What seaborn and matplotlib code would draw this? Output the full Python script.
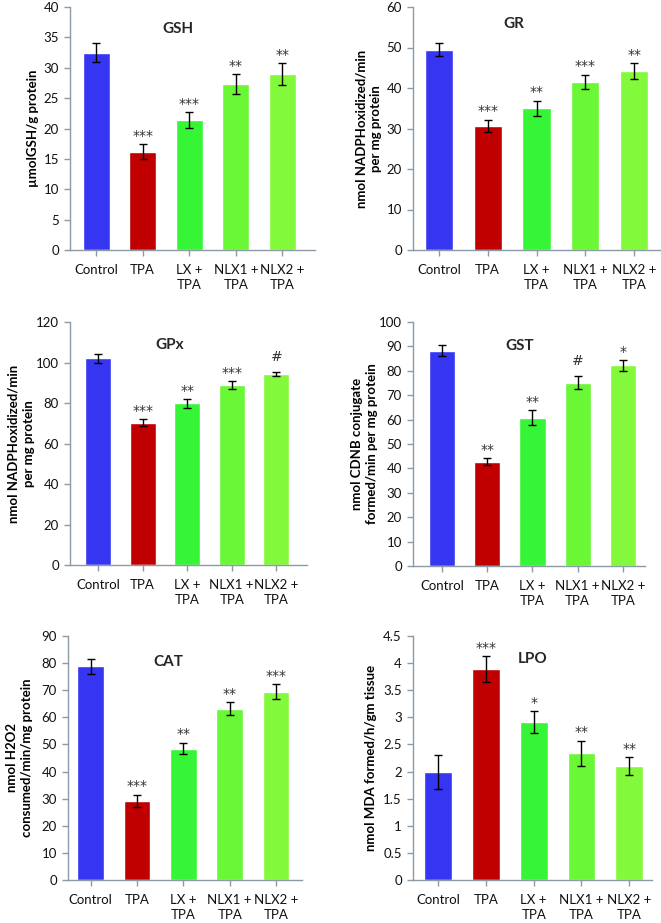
import matplotlib
matplotlib.use("Agg")
import matplotlib.pyplot as plt
import seaborn as sns
import numpy as np
import pandas as pd

sns.set_theme(style="white")
plt.rcParams['font.family'] = ['Lato', 'DejaVu Sans']

# ---- data ----
categories = ["Control", "TPA", "LX +\nTPA", "NLX1 +\nTPA", "NLX2 +\nTPA"]
colors = ["#3535f2", "#c00000", "#36f536", "#69f736", "#82f93a"]

gsh_vals = [32.5, 16.2, 21.4, 27.3, 28.9]
gsh_errs = [1.5, 1.2, 1.3, 1.6, 1.8]
gsh_sig = ["", "***", "***", "**", "**"]

gr_vals = [49.5, 30.7, 35.0, 41.5, 44.2]
gr_errs = [1.7, 1.5, 1.9, 1.8, 2.0]
gr_sig = ["", "***", "**", "***", "**"]

gpx_vals = [102.0, 70.3, 79.8, 88.7, 94.5]
gpx_errs = [2.0, 1.8, 2.2, 2.0, 1.0]
gpx_sig = ["", "***", "**", "***", "#"]

gst_vals = [88.2, 42.7, 60.8, 75.2, 82.3]
gst_errs = [2.2, 1.5, 3.0, 2.8, 2.2]
gst_sig = ["", "**", "**", "#", "*"]

cat_vals = [78.8, 29.2, 48.5, 63.2, 69.5]
cat_errs = [2.7, 2.3, 2.2, 2.5, 2.8]
cat_sig = ["", "***", "**", "**", "***"]

lpo_vals = [1.99, 3.89, 2.91, 2.34, 2.10]
lpo_errs = [0.31, 0.24, 0.20, 0.23, 0.16]
lpo_sig = ["", "***", "*", "**", "**"]

titles = ["GSH", "GR", "GPx", "GST", "CAT", "LPO"]
ylabels = ["µmolGSH/g protein",
           "nmol NADPHoxidized/min\nper mg protein",
           "nmol NADPHoxidized/min\nper mg protein",
           "nmol CDNB conjugate\nformed/min per mg protein",
           "nmol H2O2\nconsumed/min/mg protein",
           "nmol MDA formed/h/gm tissue"]
yticks_list = [np.arange(0, 41, 5), np.arange(0, 61, 10), np.arange(0, 121, 20),
               np.arange(0, 101, 10), np.arange(0, 91, 10), np.arange(0, 4.51, 0.5)]
ytick_labels = [None, None, None, None, None,
                ["0", "0.5", "1", "1.5", "2", "2.5", "3", "3.5", "4", "4.5"]]

panels = [(gsh_vals, gsh_errs, gsh_sig), (gr_vals, gr_errs, gr_sig),
          (gpx_vals, gpx_errs, gpx_sig), (gst_vals, gst_errs, gst_sig),
          (cat_vals, cat_errs, cat_sig), (lpo_vals, lpo_errs, lpo_sig)]

# ---- layout (pixels: left, right, top, bottom) ----
W, H = 661, 923
boxes = [(70, 315, 7, 250), (413, 660, 7, 250),
         (70, 307, 322, 565), (413, 645, 322, 566),
         (68, 302, 636, 880), (413, 652, 636, 880)]
xlims = [(-0.56, 4.70), (-0.53, 4.53), (-0.63, 4.69),
         (-0.64, 4.49), (-0.49, 4.56), (-0.53, 4.48)]
title_pos = [(0.44, 0.91), (0.41, 0.93), (0.42, 0.905),
             (0.46, 0.90), (0.43, 0.893), (0.50, 0.905)]
ylabel_x = [-0.127, -0.125, -0.148, -0.151, -0.15, -0.151]

axis_col = "#8c9aa6"
fig = plt.figure(figsize=(W / 100, H / 100), dpi=100)

for i, (vals, errs, sig) in enumerate(panels):
    l, r, t, b = boxes[i]
    ax = fig.add_axes([l / W, 1 - b / H, (r - l) / W, (b - t) / H])
    df = pd.DataFrame({"cat": categories, "val": vals})
    sns.barplot(data=df, x="cat", y="val", hue="cat", palette=colors,
                width=0.58, legend=False, ax=ax, saturation=1, errorbar=None)
    xs = np.arange(len(vals))
    ax.errorbar(xs, vals, yerr=errs, fmt="none", ecolor="black",
                elinewidth=1.0, capsize=3, capthick=1.0)
    for x, v, e, s in zip(xs, vals, errs, sig):
        if s:
            off = 8 if s == "#" else 3
            ax.annotate(s, (x, v + e), xytext=(0, off), textcoords="offset points",
                        ha="center", va="baseline", fontsize=10,
                        family="DejaVu Sans", color="#333333")
    yt = yticks_list[i]
    ax.set_ylim(yt[0], yt[-1])
    ax.set_yticks(yt)
    if ytick_labels[i] is not None:
        ax.set_yticklabels(ytick_labels[i])
    ax.set_xlim(*xlims[i])
    ax.set_xlabel("")
    ax.set_ylabel(ylabels[i], fontsize=9.5, fontweight="bold", color="black",
                  linespacing=1.3)
    ax.yaxis.set_label_coords(ylabel_x[i], 0.5)
    ax.text(title_pos[i][0], title_pos[i][1], titles[i], transform=ax.transAxes,
            ha="center", va="center", fontsize=11, fontweight="bold")
    for sp in ["top", "right"]:
        ax.spines[sp].set_visible(False)
    for sp in ["left", "bottom"]:
        ax.spines[sp].set_color(axis_col)
        ax.spines[sp].set_linewidth(1.0)
    ax.tick_params(axis="both", which="both", direction="out", length=4,
                   width=1.0, color=axis_col, labelcolor="#111111",
                   left=True, bottom=True, pad=4)
    ax.tick_params(axis="y", labelsize=9.5)
    ax.tick_params(axis="x", labelsize=9.5, pad=6)
    for lab in ax.get_xticklabels():
        lab.set_linespacing(1.35)
    ax.grid(False)

fig.savefig("out.png", dpi=100)
